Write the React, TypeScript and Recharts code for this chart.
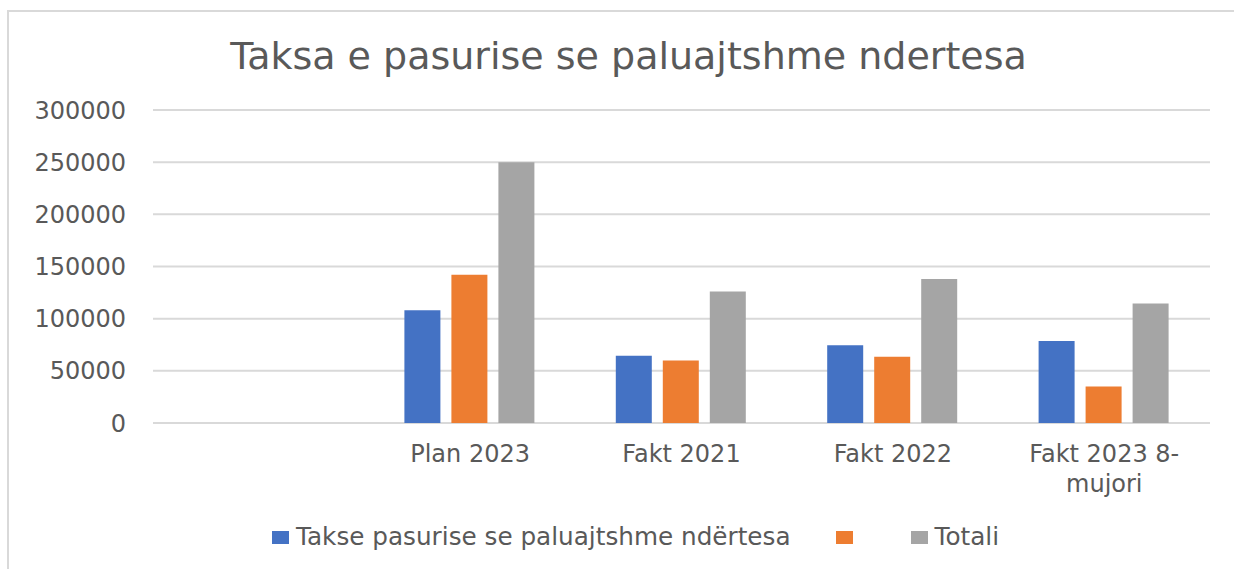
import { BarChart, Bar, XAxis, YAxis, CartesianGrid } from 'recharts';

const categories = ['', 'Plan 2023', 'Fakt 2021', 'Fakt 2022', 'Fakt 2023 8-mujori'];
const takseValues = [null, 108000, 64500, 74500, 78500];
const pagesaValues = [null, 142000, 60000, 63500, 35000];
const totaliValues = [null, 250000, 126000, 138000, 114500];
const yTicks = [0, 50000, 100000, 150000, 200000, 250000, 300000];

const series = [
  { key: 'takse', name: 'Takse pasurise se paluajtshme ndërtesa', color: '#4472C4' },
  { key: 'pagesa', name: '', color: '#ED7D31' },
  { key: 'totali', name: 'Totali', color: '#A5A5A5' },
];

const data = categories.map((name, i) => ({
  name,
  takse: takseValues[i],
  pagesa: pagesaValues[i],
  totali: totaliValues[i],
}));

const FONT = '"DejaVu Sans", sans-serif';
const TEXT = '#595959';

function CategoryTick({ x, y, payload }: any) {
  const lines: string[] = String(payload.value).length > 12
    ? String(payload.value).split(/(?<=-)/)
    : [String(payload.value)];
  return (
    <text x={x} y={y + 31} textAnchor="middle" fill={TEXT} fontSize={24} fontFamily={FONT}>
      {lines.map((l, i) => (
        <tspan key={i} x={x} dy={i === 0 ? 0 : 30}>{l}</tspan>
      ))}
    </text>
  );
}

export default function App() {
  return (
    <div style={{ position: 'absolute', left: 0, top: 0, width: 1234, height: 569, overflow: 'hidden', background: '#fff' }}>
      <div style={{ position: 'absolute', left: 7, top: 10, width: 1300, height: 600, borderLeft: '2px solid #d9d9d9', borderTop: '2px solid #d9d9d9' }} />
      <div style={{ position: 'absolute', left: 0, top: 37, width: 1257, textAlign: 'center', fontFamily: FONT, fontSize: 38, color: TEXT, lineHeight: '38px' }}>
        Taksa e pasurise se paluajtshme ndertesa
      </div>
      <div style={{ position: 'absolute', left: 0, top: 0 }}>
        <BarChart
          width={1234}
          height={569}
          data={data}
          margin={{ top: 110, right: 24, bottom: 86, left: 0 }}
          barCategoryGap={40}
          barGap={11}
        >
          <CartesianGrid vertical={false} stroke="#d9d9d9" strokeWidth={2} />
          <XAxis dataKey="name" axisLine={false} tickLine={false} height={60} interval={0} tick={<CategoryTick />} />
          <YAxis
            width={153}
            domain={[0, 300000]}
            ticks={yTicks}
            axisLine={false}
            tickLine={false}
            tickMargin={21}
            tick={{ fill: TEXT, fontSize: 24, fontFamily: FONT }}
          />
          {series.map((s) => (
            <Bar key={s.key} dataKey={s.key} name={s.name} fill={s.color} isAnimationActive={false} />
          ))}
        </BarChart>
      </div>
      <div style={{ position: 'absolute', left: 272, top: 523, display: 'flex', alignItems: 'center', fontFamily: FONT, fontSize: 24.7, color: TEXT, lineHeight: '28px' }}>
        {series.map((s, i) => (
          <div key={s.key} style={{ display: 'flex', alignItems: 'center', marginRight: i === 0 ? 45 : 51 }}>
            <span style={{ display: 'inline-block', width: 17, height: 13, background: s.color, marginRight: 7 }} />
            <span>{s.name}</span>
          </div>
        ))}
      </div>
    </div>
  );
}
